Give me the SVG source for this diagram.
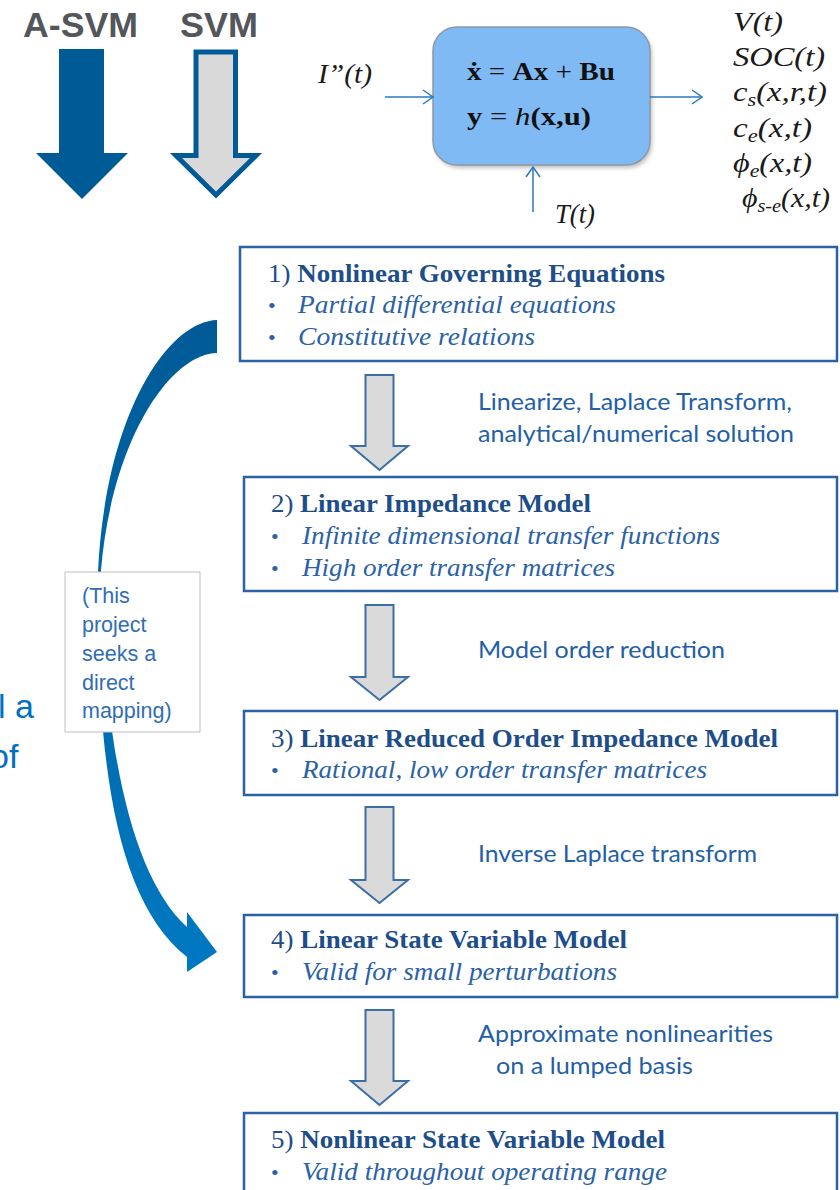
<svg xmlns="http://www.w3.org/2000/svg" width="840" height="1190" viewBox="0 0 840 1190">
<defs>
<style>
.hdr{font-family:"Liberation Sans",Arial,sans-serif;font-weight:bold;font-size:35px;fill:#53565A}
.ser{font-family:"Liberation Serif","Times New Roman",serif;font-style:italic;font-size:28px;fill:#1a1a1a}
.eq{font-family:"Liberation Serif","Times New Roman",serif;font-size:26px;fill:#111}
.box{fill:#fff;stroke:#2A62A4;stroke-width:2.5}
.title{font-family:"Liberation Serif","Times New Roman",serif;font-weight:bold;font-size:25px;fill:#1D4E89}
.bul{font-family:"Liberation Serif","Times New Roman",serif;font-style:italic;font-size:25px;fill:#2B62A6}
.dot{font-family:"Liberation Serif","Times New Roman",serif;font-size:22px;fill:#2B62A6}
.lbl{font-family:Lato,"Liberation Sans",Arial,sans-serif;font-size:23px;fill:#245FA6}
.gar{fill:#DADADA;stroke:#3C6EA6;stroke-width:2}
.note{font-family:"Liberation Sans",Arial,sans-serif;font-size:21.5px;fill:#2F6EB5}
.big{font-family:"Liberation Sans",Arial,sans-serif;font-size:34px;fill:#0070C0}
.ln{stroke:#2B7BBA;stroke-width:1.5;fill:none}
</style>
<marker id="chev" viewBox="0 0 12 16" refX="11" refY="8" markerWidth="12" markerHeight="16" markerUnits="userSpaceOnUse" orient="auto">
<path d="M1,1 L11,8 L1,15" fill="none" stroke="#2B7BBA" stroke-width="1.5"/>
</marker>
<linearGradient id="cg" gradientUnits="userSpaceOnUse" x1="0" y1="320" x2="0" y2="972">
<stop offset="0" stop-color="#005A96"/>
<stop offset="1" stop-color="#0079C2"/>
</linearGradient>
<filter id="sh" x="-10%" y="-10%" width="130%" height="130%">
<feGaussianBlur stdDeviation="2"/>
</filter>
</defs>

<g id="legend-asvm">
<text class="hdr" x="23" y="37" textLength="115" lengthAdjust="spacingAndGlyphs">A-SVM</text>
<polygon points="59,49 104,49 104,153 128,153 82,199 36,153 59,153" fill="#005A96"/>
</g>
<g id="legend-svm">
<text class="hdr" x="180" y="37" textLength="78" lengthAdjust="spacingAndGlyphs">SVM</text>
<polygon points="196,52 235.5,52 235.5,155.5 256,155.5 216,195 176,155.5 196,155.5" fill="#D9D9D9" stroke="#005A96" stroke-width="5"/>
</g>

<g id="system">
<rect x="435" y="30" width="217" height="138" rx="24" fill="#000" opacity="0.25" filter="url(#sh)"/>
<rect x="433" y="27" width="217" height="138" rx="24" fill="#80BAF5" stroke="#8E98A3" stroke-width="1.5"/>
<text class="eq" x="467" y="80" textLength="148" lengthAdjust="spacingAndGlyphs"><tspan font-weight="bold">ẋ</tspan> = <tspan font-weight="bold">Ax</tspan> + <tspan font-weight="bold">Bu</tspan></text>
<text class="eq" x="467" y="125" textLength="124" lengthAdjust="spacingAndGlyphs"><tspan font-weight="bold">y</tspan> = <tspan font-style="italic">h</tspan><tspan font-weight="bold">(x,u)</tspan></text>
</g>
<g id="input-I">
<text class="ser" x="318" y="83" textLength="54" lengthAdjust="spacingAndGlyphs">I”(t)</text>
</g>
<g id="input-T">
<text class="ser" x="555" y="223" textLength="40" lengthAdjust="spacingAndGlyphs">T(t)</text>
</g>
<g id="outputs">
<text class="ser" x="733" y="31" textLength="50" lengthAdjust="spacingAndGlyphs">V(t)</text>
<text class="ser" x="733" y="66" textLength="92" lengthAdjust="spacingAndGlyphs">SOC(t)</text>
<text class="ser" x="733" y="101" textLength="94" lengthAdjust="spacingAndGlyphs">c<tspan font-size="19" dy="5">s</tspan><tspan dy="-5">(x,r,t)</tspan></text>
<text class="ser" x="733" y="137" textLength="79" lengthAdjust="spacingAndGlyphs">c<tspan font-size="19" dy="5">e</tspan><tspan dy="-5">(x,t)</tspan></text>
<text class="ser" x="733" y="172" textLength="79" lengthAdjust="spacingAndGlyphs">ϕ<tspan font-size="19" dy="5">e</tspan><tspan dy="-5">(x,t)</tspan></text>
<text class="ser" x="742" y="207" textLength="88" lengthAdjust="spacingAndGlyphs">ϕ<tspan font-size="19" dy="5">s-e</tspan><tspan dy="-5">(x,t)</tspan></text>
</g>

<g id="partial-text">
<text class="big" x="-2" y="718">l a</text>
<text class="big" x="-10" y="768">of</text>
</g>

<g id="connectors">
<line class="ln" x1="385" y1="97" x2="433" y2="97" marker-end="url(#chev)"/>
<line class="ln" x1="650" y1="97" x2="702" y2="97" marker-end="url(#chev)"/>
<line class="ln" x1="533" y1="212" x2="533" y2="167" marker-end="url(#chev)"/>
<path d="M217,320 C165,322 105,420 98,572 C96,760 115,900 187,957 L187,972 L217,952 L187,912 L187,927 C130,875 103,740 101,570 C112,440 170,354 217,353 Z" fill="url(#cg)"/>
<polygon class="gar" points="365.5,375 393.5,375 393.5,446 408,446 379.5,470 351,446 365.5,446"/>
<polygon class="gar" points="365.5,605 393.5,605 393.5,677 408,677 379.5,700 351,677 365.5,677"/>
<polygon class="gar" points="365.5,807 393.5,807 393.5,880 408,880 379.5,903 351,880 365.5,880"/>
<polygon class="gar" points="365.5,1010 393.5,1010 393.5,1081 408,1081 379.5,1105 351,1081 365.5,1081"/>
</g>

<g id="note">
<rect x="65" y="572" width="135" height="160" fill="#fff" stroke="#BFBFBF" stroke-width="1"/>
<text class="note" x="82" y="603">(This</text>
<text class="note" x="82" y="632">project</text>
<text class="note" x="82" y="661">seeks a</text>
<text class="note" x="82" y="690">direct</text>
<text class="note" x="82" y="718">mapping)</text>
</g>

<g id="step-labels">
<text class="lbl" x="478" y="410" textLength="314" lengthAdjust="spacingAndGlyphs">Linearize, Laplace Transform,</text>
<text class="lbl" x="478" y="442" textLength="316" lengthAdjust="spacingAndGlyphs">analytical/numerical solution</text>
<text class="lbl" x="478" y="658" textLength="247" lengthAdjust="spacingAndGlyphs">Model order reduction</text>
<text class="lbl" x="478" y="862" textLength="279" lengthAdjust="spacingAndGlyphs">Inverse Laplace transform</text>
<text class="lbl" x="478" y="1042" textLength="295" lengthAdjust="spacingAndGlyphs">Approximate nonlinearities</text>
<text class="lbl" x="496" y="1074" textLength="197" lengthAdjust="spacingAndGlyphs">on a lumped basis</text>
</g>

<g id="box1">
<rect class="box" x="240" y="247" width="597" height="114"/>
<text class="title" x="268" y="282" textLength="397" lengthAdjust="spacingAndGlyphs"><tspan font-weight="normal">1) </tspan>Nonlinear Governing Equations</text>
<text class="dot" x="268" y="313">•</text>
<text class="bul" x="298" y="313" textLength="318" lengthAdjust="spacingAndGlyphs">Partial differential equations</text>
<text class="dot" x="268" y="345">•</text>
<text class="bul" x="298" y="345" textLength="237" lengthAdjust="spacingAndGlyphs">Constitutive relations</text>
</g>

<g id="box2">
<rect class="box" x="244" y="477" width="593" height="114"/>
<text class="title" x="271" y="512" textLength="320" lengthAdjust="spacingAndGlyphs"><tspan font-weight="normal">2) </tspan>Linear Impedance Model</text>
<text class="dot" x="271" y="544">•</text>
<text class="bul" x="302" y="544" textLength="418" lengthAdjust="spacingAndGlyphs">Infinite dimensional transfer functions</text>
<text class="dot" x="271" y="576">•</text>
<text class="bul" x="302" y="576" textLength="313" lengthAdjust="spacingAndGlyphs">High order transfer matrices</text>
</g>

<g id="box3">
<rect class="box" x="244" y="711" width="593" height="84"/>
<text class="title" x="271" y="747" textLength="507" lengthAdjust="spacingAndGlyphs"><tspan font-weight="normal">3) </tspan>Linear Reduced Order Impedance Model</text>
<text class="dot" x="271" y="778">•</text>
<text class="bul" x="302" y="778" textLength="405" lengthAdjust="spacingAndGlyphs">Rational, low order transfer matrices</text>
</g>

<g id="box4">
<rect class="box" x="244" y="915" width="593" height="82"/>
<text class="title" x="271" y="948" textLength="356" lengthAdjust="spacingAndGlyphs"><tspan font-weight="normal">4) </tspan>Linear State Variable Model</text>
<text class="dot" x="271" y="980">•</text>
<text class="bul" x="302" y="980" textLength="315" lengthAdjust="spacingAndGlyphs">Valid for small perturbations</text>
</g>

<g id="box5">
<rect class="box" x="244" y="1113" width="593" height="100"/>
<text class="title" x="271" y="1148" textLength="394" lengthAdjust="spacingAndGlyphs"><tspan font-weight="normal">5) </tspan>Nonlinear State Variable Model</text>
<text class="dot" x="271" y="1180">•</text>
<text class="bul" x="302" y="1180" textLength="365" lengthAdjust="spacingAndGlyphs">Valid throughout operating range</text>
</g>
</svg>
